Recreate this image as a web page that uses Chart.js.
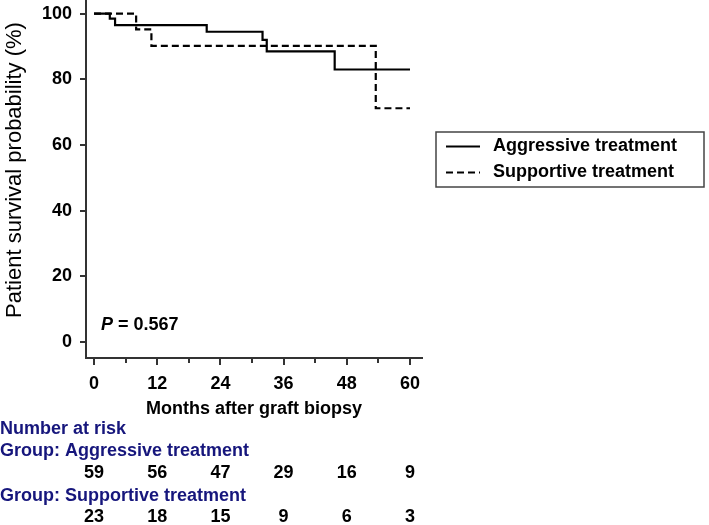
<!DOCTYPE html>
<html>
<head>
<meta charset="utf-8">
<script src="https://cdn.jsdelivr.net/npm/chart.js@4"></script>
<style>
html, body { margin: 0; padding: 0; background: #fff; }
#wrap { width: 709px; height: 525px; }
</style>
</head>
<body>
<div id="wrap"><canvas id="km" width="709" height="525"></canvas></div>
<script>
"use strict";

// Kaplan-Meier steps (month of event, survival % after it)
const aggMonths = [0, 3, 4, 21.4, 32, 32.8, 45.7, 60];
const aggSurv = [100, 98.5, 96.5, 94.5, 92, 88.5, 83, 83];
const supMonths = [0, 8, 10.9, 53.5, 60];
const supSurv = [100, 95.2, 90.2, 71.2, 71.2];

const xTicks = [0, 12, 24, 36, 48, 60];
const xMinor = [6, 18, 30, 42, 54];
const yTicks = [0, 20, 40, 60, 80, 100];

// number at risk under each x tick
const riskAgg = [59, 56, 47, 29, 16, 9];
const riskSup = [23, 18, 15, 9, 6, 3];

const groupNames = ["Aggressive treatment", "Supportive treatment"];
const pValue = "0.567";
const yTitle = "Patient survival probability (%)";

const FONT = "'Liberation Sans', Arial, sans-serif";
const axisCol = "#333";
const navy = "#16167c";

function pts(xs, ys) {
    return xs.map((m, i) => ({ x: m, y: ys[i] }));
}

const extras = {
    id: "extras",
    afterDraw(chart) {
        const ctx = chart.ctx;
        const xs = chart.scales.x;
        const area = chart.chartArea;
        ctx.save();

        // minor ticks on x axis
        ctx.strokeStyle = axisCol;
        ctx.lineWidth = 2;
        xMinor.forEach(m => {
            const px = Math.round(xs.getPixelForValue(m));
            ctx.beginPath();
            ctx.moveTo(px, area.bottom);
            ctx.lineTo(px, area.bottom + 5);
            ctx.stroke();
        });

        // y axis title (drawn by hand, sits a bit above centre)
        ctx.save();
        ctx.translate(15, 170);
        ctx.rotate(-Math.PI / 2);
        ctx.fillStyle = "#000";
        ctx.textAlign = "center";
        ctx.textBaseline = "middle";
        ctx.font = "22px " + FONT;
        ctx.fillText(yTitle, 0, 0);
        ctx.restore();

        // P value
        ctx.fillStyle = "#000";
        ctx.textAlign = "left";
        ctx.textBaseline = "alphabetic";
        ctx.font = "italic bold 18px " + FONT;
        ctx.fillText("P", area.left + 15, 330);
        const pw = ctx.measureText("P").width;
        ctx.font = "bold 18px " + FONT;
        ctx.fillText(" = " + pValue, area.left + 15 + pw, 330);

        // legend
        ctx.strokeStyle = "#444";
        ctx.lineWidth = 1.5;
        ctx.strokeRect(436, 132, 268, 55);
        ctx.strokeStyle = "#000";
        ctx.lineWidth = 2;
        chart.data.datasets.forEach((ds, i) => {
            const ly = 146.5 + i * 26;
            ctx.setLineDash(ds.borderDash || []);
            ctx.beginPath();
            ctx.moveTo(446, ly);
            ctx.lineTo(480, ly);
            ctx.stroke();
            ctx.setLineDash([]);
            ctx.textBaseline = "middle";
            ctx.fillText(ds.label, 493, ly);
        });

        // number at risk table
        ctx.textBaseline = "middle";
        ctx.fillStyle = navy;
        ctx.fillText("Number at risk", 0, 429);
        ctx.fillText("Group: " + groupNames[0], 0, 451);
        ctx.fillText("Group: " + groupNames[1], 0, 496);
        ctx.fillStyle = "#000";
        ctx.textAlign = "center";
        xTicks.forEach((t, i) => {
            const px = xs.getPixelForValue(t);
            ctx.fillText(String(riskAgg[i]), px, 473);
            ctx.fillText(String(riskSup[i]), px, 517);
        });
        ctx.restore();
    }
};

const ctx = document.getElementById("km").getContext("2d");
new Chart(ctx, {
    type: "line",
    data: {
        datasets: [
            {
                label: groupNames[0],
                data: pts(aggMonths, aggSurv),
                borderColor: "#000",
                borderWidth: 2.2,
                stepped: true,
                pointRadius: 0,
                fill: false
            },
            {
                label: groupNames[1],
                data: pts(supMonths, supSurv),
                borderColor: "#000",
                borderWidth: 2.2,
                borderDash: [7, 4],
                stepped: true,
                pointRadius: 0,
                fill: false
            }
        ]
    },
    options: {
        responsive: false,
        animation: false,
        devicePixelRatio: 1,
        layout: { padding: { top: 1, right: 287, bottom: 105, left: 0 } },
        plugins: { legend: { display: false }, tooltip: { enabled: false } },
        scales: {
            x: {
                type: "linear",
                min: -1.52,
                max: 62.28,
                afterBuildTicks: s => { s.ticks = xTicks.map(v => ({ value: v })); },
                afterFit: s => { s.height = 62; s.paddingLeft = 0; s.paddingRight = 0; },
                grid: { drawOnChartArea: false, drawTicks: true, tickLength: 7, tickColor: axisCol, lineWidth: 2 },
                border: { display: true, color: axisCol, width: 2 },
                ticks: { color: "#000", font: { family: FONT, size: 18, weight: "bold" }, padding: 8, maxRotation: 0 },
                title: { display: true, text: "Months after graft biopsy", color: "#000", font: { family: FONT, size: 18, weight: "bold" }, padding: { top: 0, bottom: 0 } }
            },
            y: {
                min: -4.86,
                max: 103.86,
                afterBuildTicks: s => { s.ticks = yTicks.map(v => ({ value: v })); },
                afterFit: s => { s.width = 86; s.paddingTop = 0; s.paddingBottom = 0; },
                grid: { drawOnChartArea: false, drawTicks: true, tickLength: 6, tickColor: axisCol, lineWidth: 2 },
                border: { display: true, color: axisCol, width: 2 },
                ticks: { color: "#000", font: { family: FONT, size: 18, weight: "bold" }, padding: 8 }
            }
        }
    },
    plugins: [extras]
});
</script>
</body>
</html>
